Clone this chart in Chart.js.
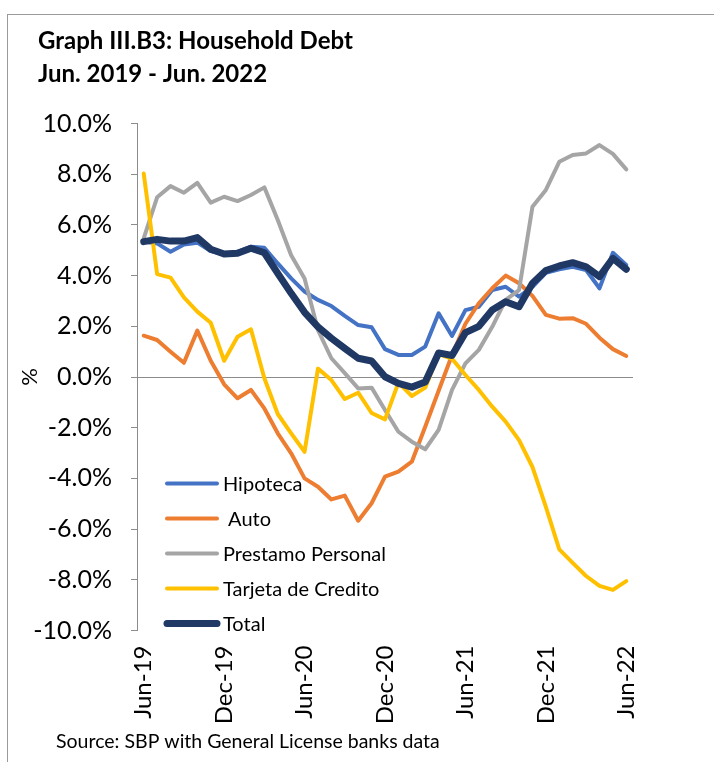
<!DOCTYPE html>
<html>
<head>
<meta charset="utf-8">
<script src="https://cdn.jsdelivr.net/npm/chart.js@4/dist/chart.umd.min.js"></script>
<style>
  html, body { margin: 0; padding: 0; background: #ffffff; }
  #wrap { position: relative; width: 714px; height: 762px; }
</style>
</head>
<body>
<div id="wrap"><canvas id="chart" width="714" height="762"></canvas></div>
<script>
// Monthly categories, Jun-19 .. Jun-22
const categories = [
  'Jun-19','Jul-19','Aug-19','Sep-19','Oct-19','Nov-19','Dec-19','Jan-20','Feb-20','Mar-20','Apr-20','May-20',
  'Jun-20','Jul-20','Aug-20','Sep-20','Oct-20','Nov-20','Dec-20','Jan-21','Feb-21','Mar-21','Apr-21','May-21',
  'Jun-21','Jul-21','Aug-21','Sep-21','Oct-21','Nov-21','Dec-21','Jan-22','Feb-22','Mar-22','Apr-22','May-22',
  'Jun-22'
];

// Year-on-year growth, %
const hipoteca = [5.34,5.27,4.94,5.23,5.30,4.97,4.85,4.94,5.14,5.10,4.48,3.89,3.37,3.04,2.80,2.41,2.05,1.96,1.10,0.87,0.87,1.20,2.51,1.62,2.64,2.77,3.43,3.56,3.17,3.56,4.11,4.25,4.35,4.22,3.50,4.90,4.42];
const auto = [1.63,1.46,1.00,0.56,1.83,0.64,-0.29,-0.84,-0.51,-1.24,-2.22,-3.01,-4.00,-4.33,-4.83,-4.68,-5.67,-4.98,-3.93,-3.73,-3.34,-1.96,-0.54,0.87,2.10,2.91,3.50,4.00,3.70,3.20,2.45,2.30,2.32,2.10,1.55,1.10,0.83];
const prestamoPersonal = [5.47,7.09,7.53,7.27,7.66,6.88,7.11,6.94,7.18,7.48,6.19,4.80,3.89,1.85,0.74,0.15,-0.45,-0.42,-1.30,-2.16,-2.55,-2.85,-2.09,-0.51,0.54,1.07,1.98,3.04,3.43,6.72,7.38,8.49,8.76,8.82,9.15,8.80,8.19];
const tarjetaCredito = [8.03,4.06,3.92,3.14,2.58,2.14,0.64,1.59,1.88,-0.05,-1.46,-2.22,-2.95,0.33,-0.12,-0.87,-0.62,-1.42,-1.67,-0.22,-0.75,-0.42,0.90,0.72,0.08,-0.51,-1.17,-1.76,-2.49,-3.55,-5.12,-6.80,-7.33,-7.85,-8.24,-8.40,-8.05];
const total = [5.34,5.43,5.36,5.36,5.50,5.04,4.85,4.88,5.08,4.90,4.09,3.30,2.55,1.98,1.53,1.13,0.74,0.63,0.01,-0.25,-0.40,-0.20,0.95,0.85,1.75,2.00,2.64,2.97,2.77,3.70,4.20,4.38,4.51,4.35,3.96,4.68,4.25];

// Axis labels shown on the category axis (every six months)
const shownTicks = ['Jun-19','Dec-19','Jun-20','Dec-20','Jun-21','Dec-21','Jun-22'];

const FONT = 'Lato, "Open Sans", "Liberation Sans", sans-serif';
const AXIS_GREY = '#8c8c8c';

function series(label, data, color, width, order) {
  return {
    label, data,
    borderColor: color, backgroundColor: color,
    borderWidth: width, pointRadius: 0, pointHoverRadius: 0,
    tension: 0, fill: false,
    borderJoinStyle: 'round', borderCapStyle: 'round',
    order
  };
}

// Title, source note and outer frame
const framePlugin = {
  id: 'frameAndText',
  beforeDraw(chart) {
    const ctx = chart.ctx;
    ctx.save();
    ctx.fillStyle = '#ffffff';
    ctx.fillRect(0, 0, chart.width, chart.height);
    ctx.strokeStyle = '#9a9a9a';
    ctx.lineWidth = 1;
    ctx.strokeRect(7.5, 14.5, 900, 900);
    ctx.fillStyle = '#000000';
    ctx.textAlign = 'left';
    ctx.textBaseline = 'alphabetic';
    ctx.font = 'bold 24px ' + FONT;
    ctx.fillText('Graph III.B3: Household Debt', 38, 49);
    ctx.fillText('Jun. 2019 - Jun. 2022', 38, 82);
    ctx.font = '19.5px ' + FONT;
    ctx.fillText('Source: SBP with General License banks data', 56, 748);
    ctx.restore();
  }
};

// Legend drawn inside the plot area, lower left
const insideLegend = {
  id: 'insideLegend',
  afterDatasetsDraw(chart) {
    const ctx = chart.ctx;
    ctx.save();
    chart.data.datasets.forEach((ds, i) => {
      const y = 483.5 + i * 35;
      ctx.strokeStyle = ds.borderColor;
      ctx.lineWidth = ds.borderWidth;
      ctx.lineCap = 'round';
      ctx.beginPath();
      ctx.moveTo(167, y);
      ctx.lineTo(217, y);
      ctx.stroke();
      ctx.fillStyle = '#000000';
      ctx.font = '20px ' + FONT;
      ctx.textAlign = 'left';
      ctx.textBaseline = 'middle';
      ctx.fillText(ds.label, 223, y + 1);
    });
    ctx.restore();
  }
};

new Chart(document.getElementById('chart'), {
  type: 'line',
  data: {
    labels: categories,
    datasets: [
      series('Hipoteca', hipoteca, '#4472C4', 4, 4),
      series(' Auto', auto, '#ED7D31', 4, 3),
      series('Prestamo Personal', prestamoPersonal, '#A5A5A5', 4, 2),
      series('Tarjeta de Credito', tarjetaCredito, '#FFC000', 4, 1),
      series('Total', total, '#203864', 7, 0)
    ]
  },
  options: {
    responsive: false,
    animation: false,
    devicePixelRatio: 1,
    layout: { padding: { top: 123.5, right: 81, bottom: 0, left: 0 } },
    plugins: {
      legend: { display: false },
      tooltip: { enabled: false },
      title: { display: false }
    },
    scales: {
      x: {
        type: 'category',
        offset: true,
        grid: { display: false, drawTicks: false },
        border: { display: false },
        ticks: {
          autoSkip: false,
          maxRotation: 90,
          minRotation: 90,
          padding: 15,
          color: '#000000',
          font: { family: FONT, size: 24 },
          callback: (v, i) => shownTicks.includes(categories[i]) ? categories[i] : ''
        },
        afterFit: s => { s.height = 131.5; }
      },
      y: {
        min: -10,
        max: 10,
        ticks: {
          stepSize: 2,
          padding: 19,
          color: '#000000',
          font: { family: FONT, size: 25 },
          callback: v => v.toFixed(1) + '%'
        },
        grid: {
          drawOnChartArea: true,
          drawTicks: true,
          tickLength: 6,
          tickColor: AXIS_GREY,
          lineWidth: 1,
          color: ctx => (ctx.tick && ctx.tick.value === 0) ? AXIS_GREY : 'rgba(0,0,0,0)'
        },
        border: { display: true, color: AXIS_GREY, width: 1 },
        title: {
          display: true,
          text: '%',
          color: '#000000',
          font: { family: FONT, size: 22 },
          padding: { top: 17, bottom: 0 }
        },
        afterFit: s => { s.width = 137; }
      }
    }
  },
  plugins: [framePlugin, insideLegend]
});
</script>
</body>
</html>
